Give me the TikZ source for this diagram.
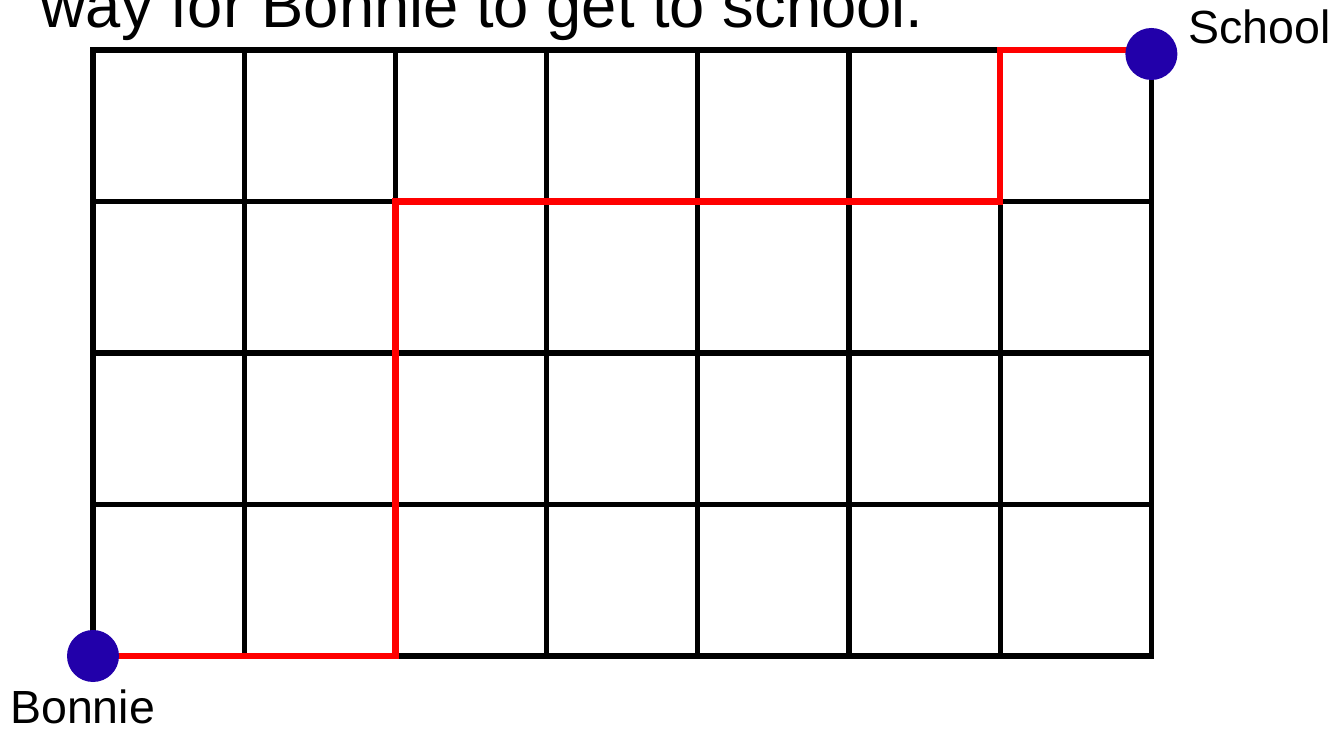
\documentclass[tikz,border=0pt]{standalone}
\usepackage{fontspec}
\setmainfont{Liberation Sans}
\definecolor{dotblue}{RGB}{34,0,170}
\begin{document}
\begin{tikzpicture}[x=1pt, y=1pt,
	street/.style={ black, line width=5.3pt, line cap=rect },
	route/.style={ red, line width=6.5pt },
	stop/.style={ dotblue, circle, fill, inner sep=0pt, minimum size=52pt },
	place/.style={ anchor=base west, inner sep=0pt, font=\fontsize{46.5}{50}\selectfont }
]
\useasboundingbox (0,0) rectangle (1335,728);

\node at (40,700) (title) [place, font=\fontsize{63.3}{70}\selectfont] {way for Bonnie to get to school.};

% 7 x 4 blocks, lower left corner is Bonnie
\begin{scope}[shift={(93,72)}, x=151.2pt, y=151.5pt]
\foreach \i in {0,...,7} \draw[street] (\i,0) -- (\i,4);
\foreach \j in {0,...,4} \draw[street] (0,\j) -- (7,\j);

\coordinate (home) at (0,0);
\coordinate (a) at (2,0);
\coordinate (b) at (2,3);
\coordinate (c) at (6,3);
\coordinate (d) at (6,4);
\coordinate (goal) at (7,4);
\draw[route] (home) -- (a) -- (b) -- (c) -- (d) -- (goal);

\node at (home) (bonnie) [stop] {};
\node at (goal) (school) [stop, yshift=-4pt] {};
\end{scope}

\node at (10,5) (bonnielbl) [place] {Bonnie};
\node at (1188,684) (schoollbl) [place] {School};

\end{tikzpicture}
\end{document}
